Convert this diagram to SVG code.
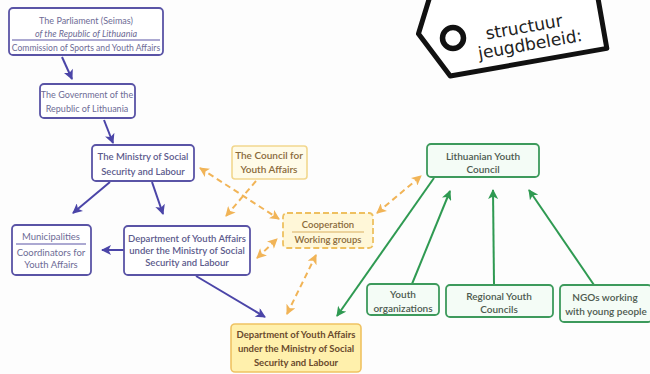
<svg xmlns="http://www.w3.org/2000/svg" width="650" height="374" viewBox="0 0 650 374">
<defs>
<style>
text{font-family:Lato,"Liberation Sans",sans-serif;text-anchor:middle;font-size:9.5px}
.pb{fill:#fff;stroke:#5a54a6;stroke-width:1.8}
.pt{fill:#6e6c96}
.pt2{fill:#5c5a8c;font-weight:600}
.yb{fill:#fffbe8;stroke:#f2d78e;stroke-width:1.6}
.yt{fill:#8a6a3a;font-weight:600}
.cb{fill:#fff7d8;stroke:#eec060;stroke-width:1.8;stroke-dasharray:6 3}
.gb{fill:#f4fcf6;stroke:#3d9a5c;stroke-width:1.8}
.gt{fill:#4d5a4f;font-weight:600;font-size:10px}
.db{fill:#fff0ac;stroke:#efc262;stroke-width:1.6}
.dt{fill:#6a4a2c;font-weight:700}
.pa{stroke:#4b45a8;stroke-width:2;fill:none;marker-end:url(#ap)}
.ga{stroke:#2f9a52;stroke-width:2;fill:none;marker-end:url(#ag)}
.oa{stroke:#f1b457;stroke-width:2;fill:none;stroke-dasharray:6 4;marker-end:url(#ao);marker-start:url(#aos)}
.oa1{stroke:#f1b457;stroke-width:2;fill:none;stroke-dasharray:6 4;marker-end:url(#ao)}
.tg{font-family:'DejaVu Sans',sans-serif;font-size:17px;fill:#222}
</style>
<marker id="ap" viewBox="0 0 10 10" refX="9" refY="5" markerWidth="11" markerHeight="10" markerUnits="userSpaceOnUse" orient="auto"><path d="M0,0 L10,5 L0,10 L2.5,5 z" fill="#4b45a8"/></marker>
<marker id="ag" viewBox="0 0 10 10" refX="9" refY="5" markerWidth="11" markerHeight="10" markerUnits="userSpaceOnUse" orient="auto"><path d="M0,0 L10,5 L0,10 L2.5,5 z" fill="#2f9a52"/></marker>
<marker id="ao" viewBox="0 0 10 10" refX="9" refY="5" markerWidth="11" markerHeight="10" markerUnits="userSpaceOnUse" orient="auto"><path d="M0,0 L10,5 L0,10 L2.5,5 z" fill="#f1b457"/></marker>
<marker id="aos" viewBox="0 0 10 10" refX="1" refY="5" markerWidth="11" markerHeight="10" markerUnits="userSpaceOnUse" orient="auto"><path d="M10,0 L0,5 L10,10 L7.5,5 z" fill="#f1b457"/></marker>
</defs>
<rect width="650" height="374" fill="#fdfdfd"/>

<g id="tag">
<g transform="rotate(-10 516 40)">
<path d="M445,-30 L604,-30 L604,64 L445,64 L421,17 Z" fill="#fff" stroke="#111" stroke-width="5" stroke-linejoin="round"/>
</g>
<circle cx="453" cy="38" r="10.5" fill="#fff" stroke="#111" stroke-width="5.5"/>
<g transform="rotate(-10 530 38)">
<text class="tg" x="526" y="32">structuur</text>
<text class="tg" x="529" y="50">jeugdbeleid:</text>
</g>
</g>

<g id="connectors">
<path class="pa" d="M62,57 L72,79"/>
<path class="pa" d="M104,120 L113,143"/>
<path class="pa" d="M110,182 L73,213"/>
<path class="pa" d="M152,182 L163,214"/>
<path class="pa" d="M124,250 L102,250"/>
<path class="pa" d="M196,276 L265,317"/>
<path class="ga" d="M434,178 L337,316"/>
<path class="ga" d="M412,284 L450,191"/>
<path class="ga" d="M494,284 L493,190"/>
<path class="ga" d="M594,285 L529,190"/>
<path class="oa" d="M200,168 L279,219"/>
<path class="oa1" d="M256,181 L226,216"/>
<path class="oa" d="M257,258 L277,239"/>
<path class="oa" d="M377,213 L421,176"/>
<path class="oa" d="M287,314 L316,255"/>
</g>

<g id="parliament">
<rect class="pb" x="9" y="8" width="154" height="47" rx="4"/>
<text class="pt" x="86" y="24" style="font-size:9px">The Parliament (Seimas)</text>
<text class="pt" x="86" y="37" style="font-size:9px;font-style:italic">of the Republic of Lithuania</text>
<line x1="12" y1="40" x2="160" y2="40" stroke="#5a54a6" stroke-width="1.2"/>
<text class="pt" x="86" y="51" style="font-size:8.6px">Commission of Sports and Youth Affairs</text>
</g>

<g id="government">
<rect class="pb" x="40" y="84" width="95" height="34" rx="4"/>
<text class="pt" x="87" y="98" style="font-size:9px">The Government of the</text>
<text class="pt" x="87" y="112" style="font-size:9px">Republic of Lithuania</text>
</g>

<g id="ministry">
<rect class="pb" x="92" y="145" width="102" height="36" rx="4"/>
<text class="pt2" x="143" y="160">The Ministry of Social</text>
<text class="pt2" x="143" y="175">Security and Labour</text>
</g>

<g id="municipalities">
<rect class="pb" x="12" y="225" width="79" height="50" rx="4"/>
<text class="pt" x="51" y="240">Municipalities</text>
<line x1="16" y1="244" x2="86" y2="244" stroke="#5a54a6" stroke-width="1.2"/>
<text class="pt" x="51" y="256">Coordinators for</text>
<text class="pt" x="51" y="268">Youth Affairs</text>
</g>

<g id="dept-left">
<rect class="pb" x="124" y="226" width="126" height="49" rx="4"/>
<text class="pt2" x="187" y="242">Department of Youth Affairs</text>
<text class="pt2" x="187" y="254">under the Ministry of Social</text>
<text class="pt2" x="187" y="266">Security and Labour</text>
</g>

<g id="council">
<rect class="yb" x="232" y="146" width="75" height="33" rx="3"/>
<text class="yt" x="269" y="159" style="font-size:10px">The Council for</text>
<text class="yt" x="269" y="173" style="font-size:10px">Youth Affairs</text>
</g>

<g id="cooperation">
<rect class="cb" x="283" y="213" width="90" height="35" rx="4"/>
<text class="yt" x="328" y="228">Cooperation</text>
<line x1="292" y1="232" x2="364" y2="232" stroke="#d9b060" stroke-width="1.2"/>
<text class="yt" x="328" y="243">Working groups</text>
</g>

<g id="lyc">
<rect class="gb" x="427" y="144" width="112" height="33" rx="4"/>
<text class="gt" x="483" y="160">Lithuanian Youth</text>
<text class="gt" x="483" y="173">Council</text>
</g>

<g id="youth-orgs">
<rect class="gb" x="367" y="284" width="72" height="31" rx="4"/>
<text class="gt" x="403" y="298">Youth</text>
<text class="gt" x="403" y="312">organizations</text>
</g>

<g id="regional">
<rect class="gb" x="446" y="285" width="107" height="32" rx="4"/>
<text class="gt" x="499" y="300">Regional Youth</text>
<text class="gt" x="499" y="313">Councils</text>
</g>

<g id="ngos">
<rect class="gb" x="560" y="285" width="92" height="37" rx="4"/>
<text class="gt" x="605" y="301">NGOs working</text>
<text class="gt" x="606" y="315">with young people</text>
</g>

<g id="dept-bottom">
<rect class="db" x="231" y="324" width="130" height="48" rx="4"/>
<text class="dt" x="296" y="338">Department of Youth Affairs</text>
<text class="dt" x="296" y="352">under the Ministry of Social</text>
<text class="dt" x="296" y="366">Security and Labour</text>
</g>
</svg>
